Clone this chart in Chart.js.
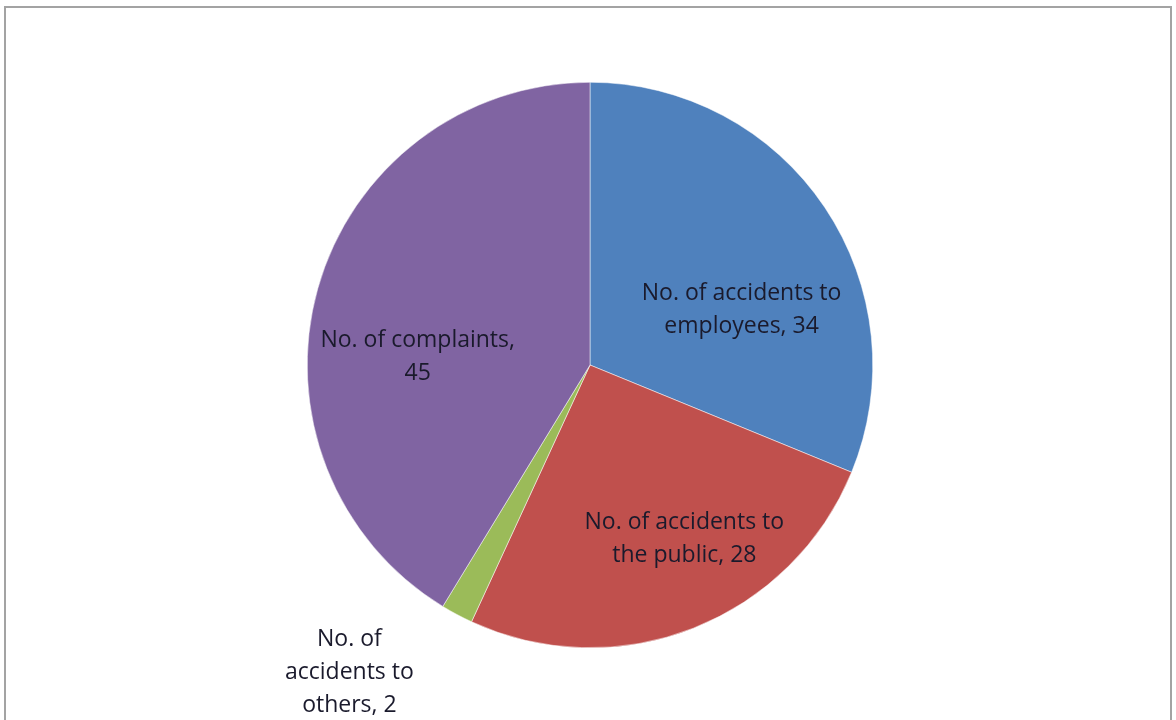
<!DOCTYPE html>
<html>
<head>
<meta charset="utf-8">
<script src="https://cdn.jsdelivr.net/npm/chart.js@4/dist/chart.umd.min.js"></script>
<style>
  html, body { margin: 0; padding: 0; background: #fff; }
  #wrap { width: 1176px; height: 720px; position: relative; }
</style>
</head>
<body>
<div id="wrap"><canvas id="chart" width="1176" height="720"></canvas></div>
<script>
const categories = [
  'No. of accidents to employees',
  'No. of accidents to the public',
  'No. of accidents to others',
  'No. of complaints'
];
const counts = [34, 28, 2, 45];
const sliceColors = ['#4F81BD', '#C0504D', '#9BBB59', '#8064A2'];

// label text split into lines, plus where each one sits relative to its slice
const labelLines = [
  ['No. of accidents to', 'employees, 34'],
  ['No. of accidents to', 'the public, 28'],
  ['No. of', 'accidents to', 'others, 2'],
  ['No. of complaints,', '45']
];
const labelPlace = [
  { turn: 14, dist: 0.57 },
  { turn: -7, dist: 0.70 },
  { turn: 10, dist: 1.38 },
  { turn: -13, dist: 0.61 }
];

const frame = {
  id: 'frame',
  beforeDraw(chart) {
    const c = chart.ctx;
    c.save();
    c.fillStyle = '#fff';
    c.fillRect(0, 0, chart.width, chart.height);
    c.strokeStyle = '#a3a3a3';
    c.lineWidth = 2;
    c.strokeRect(5, 7, chart.width - 10, chart.height - 6);
    c.restore();
  }
};

const sliceLabels = {
  id: 'sliceLabels',
  afterDatasetsDraw(chart) {
    const c = chart.ctx;
    const arcs = chart.getDatasetMeta(0).data;
    c.save();
    c.font = '23px "Open Sans", sans-serif';
    c.fillStyle = '#1a1a2c';
    c.textAlign = 'center';
    c.textBaseline = 'middle';
    arcs.forEach((arc, i) => {
      const p = arc.getProps(['x', 'y', 'startAngle', 'endAngle', 'outerRadius'], true);
      const a = (p.startAngle + p.endAngle) / 2 + labelPlace[i].turn * Math.PI / 180;
      const r = p.outerRadius * labelPlace[i].dist;
      const cx = p.x + Math.cos(a) * r;
      const cy = p.y + Math.sin(a) * r;
      const lines = labelLines[i];
      const lh = 33;
      lines.forEach((t, k) => {
        c.fillText(t, cx, cy + (k - (lines.length - 1) / 2) * lh);
      });
    });
    c.restore();
  }
};

new Chart(document.getElementById('chart'), {
  type: 'pie',
  data: {
    labels: categories,
    datasets: [{
      data: counts,
      backgroundColor: sliceColors,
      borderColor: '#ffffff',
      borderWidth: 0.5
    }]
  },
  options: {
    responsive: false,
    animation: false,
    layout: { padding: { top: 82, bottom: 72, left: 200, right: 196 } },
    plugins: {
      legend: { display: false },
      tooltip: { enabled: false }
    }
  },
  plugins: [frame, sliceLabels]
});
</script>
</body>
</html>
